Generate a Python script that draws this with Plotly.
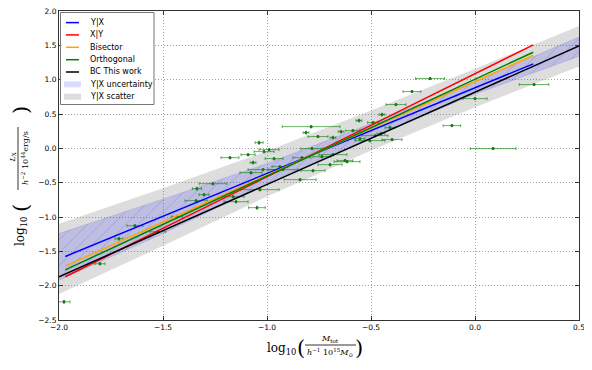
import plotly.graph_objects as go

# ---------------- data ----------------
pt_x = [-1.976, -1.803, -1.712, -1.635, -1.525, -1.433, -1.341, -1.303, -1.337, -1.260,
        -1.163, -1.149, -1.048, -1.034, -1.077, -1.019, -0.938, -1.067, -1.178, -1.091,
        -1.014, -0.990, -1.038, -0.966, -0.788, -0.8125, -0.755, -0.683, -0.644, -0.784,
        -0.832, -0.736, -0.625, -0.697, -0.923, -0.779, -0.841, -0.683, -0.216, -0.303,
        -0.380, -0.447, -0.558, -0.490, -0.587, -0.409, -0.452, -0.481, -0.399, -0.553,
        -0.505, -0.615, -0.111, 0.000, 0.284, 0.087]
pt_y = [-2.235, -1.681, -1.316, -1.127, -1.214, -0.996, -0.762, -0.675, -0.587, -0.515,
        -0.704, -0.777, -0.864, -0.602, -0.354, -0.310, -0.267, -0.208, -0.136, -0.092,
        -0.048, -0.019, 0.083, -0.150, 0.316, 0.229, 0.171, 0.156, 0.243, -0.004,
        -0.136, -0.121, -0.179, -0.238, -0.310, -0.325, -0.456, -0.092, 1.016, 0.827,
        0.637, 0.491, 0.404, 0.375, 0.258, 0.302, 0.214, 0.185, 0.127, 0.141,
        0.112, -0.194, 0.331, 0.724, 0.929, -0.004]
pt_xerr = [0.029, 0.024, 0.019, 0.038, 0.038, 0.026, 0.053, 0.024, 0.022, 0.066,
           0.053, 0.058, 0.040, 0.092, 0.053, 0.072, 0.038, 0.014, 0.043, 0.034,
           0.048, 0.048, 0.019, 0.043, 0.139, 0.014, 0.048, 0.014, 0.014, 0.053,
           0.043, 0.043, 0.038, 0.058, 0.072, 0.058, 0.077, 0.067, 0.070, 0.043,
           0.048, 0.014, 0.014, 0.026, 0.034, 0.024, 0.019, 0.062, 0.048, 0.024,
           0.072, 0.062, 0.042, 0.058, 0.071, 0.110]
pt_yerr = [0.02, 0.015, 0.02, 0.015, 0.015, 0.02, 0.015, 0.015, 0.02, 0.015,
           0.015, 0.015, 0.02, 0.015, 0.015, 0.015, 0.015, 0.02, 0.015, 0.015,
           0.015, 0.015, 0.02, 0.015, 0.015, 0.02, 0.015, 0.02, 0.02, 0.015,
           0.015, 0.015, 0.015, 0.015, 0.015, 0.015, 0.015, 0.015, 0.015, 0.015,
           0.015, 0.02, 0.02, 0.015, 0.015, 0.02, 0.02, 0.015, 0.015, 0.02,
           0.015, 0.015, 0.015, 0.015, 0.015, 0.015]

fit_x = [-1.97, 0.28]
yx_y = [-1.575, 1.23]
xy_y = [-1.87, 1.506]
bis_y = [-1.715, 1.355]
orth_y = [-1.77, 1.40]
bc_x = [-2.0, 0.5]
bc_y = [-1.87, 1.49]

band_x = [-2.0, -1.5, -1.0, -0.5, 0.0, 0.5]
unc_hi = [-1.24, -0.74, -0.22, 0.36, 0.97, 1.62]
unc_lo = [-1.92, -1.24, -0.52, 0.15, 0.79, 1.34]
sct_hi = [-1.10, -0.58, -0.04, 0.55, 1.16, 1.78]
sct_lo = [-2.12, -1.42, -0.70, -0.03, 0.60, 1.19]

x_ticks = [-2.0, -1.5, -1.0, -0.5, 0.0, 0.5]
y_ticks = [-2.5, -2.0, -1.5, -1.0, -0.5, 0.0, 0.5, 1.0, 1.5, 2.0]

legend_names = ["Y|X", "X|Y", "Bisector", "Orthogonal", "BC This work",
                "Y|X uncertainty", "Y|X scatter"]

C_BLUE, C_RED, C_ORANGE, C_GREEN, C_BLACK = "#0000ff", "#ff0000", "#ffa500", "#008000", "#000000"
UNC_FILL = "rgba(0,0,255,0.14)"
SCT_FILL = "rgba(128,128,128,0.27)"


def fmt(v):
    return f"{v:.1f}".replace("-", "\u2212")


fig = go.Figure()

fig.add_trace(go.Scatter(
    x=band_x + band_x[::-1], y=sct_hi + sct_lo[::-1], fill="toself",
    fillcolor=SCT_FILL, line=dict(width=0), mode="lines", hoverinfo="skip",
    showlegend=False))
fig.add_trace(go.Scatter(
    x=band_x + band_x[::-1], y=unc_hi + unc_lo[::-1], fill="toself",
    fillcolor=UNC_FILL,
    fillpattern=dict(shape="/", bgcolor=UNC_FILL, fgcolor="rgba(70,70,160,1)",
                     fgopacity=0.3, size=9, solidity=0.08),
    line=dict(width=0.6, color="rgba(60,60,200,0.25)"), mode="lines",
    hoverinfo="skip", showlegend=False))

fig.add_trace(go.Scatter(
    x=pt_x, y=pt_y, mode="markers",
    marker=dict(color="#1a7a1a", size=3, line=dict(width=0)),
    error_x=dict(type="data", array=pt_xerr, visible=True, color="rgba(0,128,0,0.6)",
                 thickness=1, width=1.5),
    error_y=dict(type="data", array=pt_yerr, visible=True, color="rgba(0,128,0,0.6)",
                 thickness=1, width=1),
    showlegend=False))

for xs, ys, col in [(fit_x, yx_y, C_BLUE), (fit_x, xy_y, C_RED), (fit_x, bis_y, C_ORANGE),
                    (fit_x, orth_y, C_GREEN), (bc_x, bc_y, C_BLACK)]:
    fig.add_trace(go.Scatter(x=xs, y=ys, mode="lines", line=dict(color=col, width=1.5),
                             showlegend=False, hoverinfo="skip"))

# --------------- layout (window pixels -> paper) ---------------
# the page body has an 8px margin, so the figure is shrunk by that amount
OFF = 8
W, H = 592 - 2 * OFF, 370 - 2 * OFF
PL, PR, PT, PB = 59, 579, 11, 320   # plot area in window pixels


def fx(px):
    return (px - PL) / (PR - PL)


def fy(py):
    return (PB - py) / (PB - PT)


shapes = []
annotations = []

shapes.append(dict(type="rect", xref="paper", yref="paper", x0=fx(60.5), x1=fx(154),
                   y0=fy(104.5), y1=fy(12.5), fillcolor="white",
                   line=dict(color="#777", width=1), layer="above"))
item_y = [22.6, 34.9, 47.3, 59.7, 72.0, 84.3, 96.7]
line_cols = [C_BLUE, C_RED, C_ORANGE, C_GREEN, C_BLACK]
for i, name in enumerate(legend_names):
    yy = item_y[i]
    if i < 5:
        shapes.append(dict(type="line", xref="paper", yref="paper", x0=fx(66), x1=fx(79),
                           y0=fy(yy), y1=fy(yy), line=dict(color=line_cols[i], width=1.5),
                           layer="above"))
    else:
        fc = UNC_FILL if i == 5 else SCT_FILL
        shapes.append(dict(type="rect", xref="paper", yref="paper", x0=fx(64), x1=fx(81),
                           y0=fy(yy + 3), y1=fy(yy - 3), fillcolor=fc,
                           line=dict(width=0), layer="above"))
    annotations.append(dict(text=name, x=fx(87.5), y=fy(yy), xanchor="left", yanchor="middle",
                            font=dict(family="DejaVu Sans", size=8)))

SERIF = "DejaVu Serif"
annotations += [
    dict(text="log<sub>10</sub>", x=fx(298), y=fy(349), xanchor="right", yanchor="middle",
         font=dict(family=SERIF, size=12)),
    dict(text="(", x=fx(301), y=fy(348), xanchor="center", yanchor="middle",
         font=dict(family=SERIF, size=21)),
    dict(text="<i>M</i><sub>tot</sub>", x=fx(330), y=fy(339), xanchor="center", yanchor="middle",
         font=dict(family=SERIF, size=8)),
    dict(text="<i>h</i><sup>\u22121</sup> 10<sup>15</sup><i>M</i><sub>\u2299</sub>", x=fx(330),
         y=fy(352.5), xanchor="center", yanchor="middle", font=dict(family=SERIF, size=8)),
    dict(text=")", x=fx(359), y=fy(348), xanchor="center", yanchor="middle",
         font=dict(family=SERIF, size=21)),
]
shapes.append(dict(type="line", xref="paper", yref="paper", x0=fx(305), x1=fx(356),
                   y0=fy(345), y1=fy(345), line=dict(color="black", width=0.8)))

annotations += [
    dict(text="log<sub>10</sub>", x=fx(21), y=fy(232), xanchor="center", yanchor="middle",
         textangle=-90, font=dict(family=SERIF, size=12)),
    dict(text="(", x=fx(21), y=fy(208), xanchor="center", yanchor="middle", textangle=-90,
         font=dict(family=SERIF, size=21)),
    dict(text="<i>L</i><sub>X</sub>", x=fx(12.5), y=fy(158), xanchor="center", yanchor="middle",
         textangle=-90, font=dict(family=SERIF, size=8)),
    dict(text="<i>h</i><sup>\u22122</sup> 10<sup>44</sup>erg/s", x=fx(25), y=fy(158),
         xanchor="center", yanchor="middle", textangle=-90, font=dict(family=SERIF, size=8)),
    dict(text=")", x=fx(21), y=fy(110), xanchor="center", yanchor="middle", textangle=-90,
         font=dict(family=SERIF, size=21)),
]
shapes.append(dict(type="line", xref="paper", yref="paper", x0=fx(18), x1=fx(18),
                   y0=fy(127), y1=fy(190), line=dict(color="black", width=0.8)))

for a in annotations:
    a.setdefault("xref", "paper")
    a.setdefault("yref", "paper")
    a.setdefault("showarrow", False)
    a["font"].setdefault("color", "black")

axis_common = dict(showline=True, mirror="allticks", linecolor="#333", linewidth=1,
                   ticks="inside", ticklen=4, tickcolor="#333", showgrid=True,
                   gridcolor="#a0a0a0", griddash="1px,2px", gridwidth=1, zeroline=False,
                   automargin=False, ticklabeloverflow="allow",
                   tickfont=dict(family="DejaVu Sans", size=7.5, color="black"))

fig.update_layout(
    width=W, height=H,
    margin=dict(l=PL - OFF, r=W - (PR - OFF), t=PT - OFF, b=H - (PB - OFF), pad=0),
    plot_bgcolor="white", paper_bgcolor="white",
    showlegend=False,
    xaxis=dict(range=[-2.0, 0.5], tickvals=x_ticks, ticktext=[fmt(v) for v in x_ticks],
               **axis_common),
    yaxis=dict(range=[-2.5, 2.0], tickvals=y_ticks, ticktext=[fmt(v) for v in y_ticks],
               **axis_common),
    shapes=shapes,
    annotations=annotations,
)

fig.write_html("out.html")
